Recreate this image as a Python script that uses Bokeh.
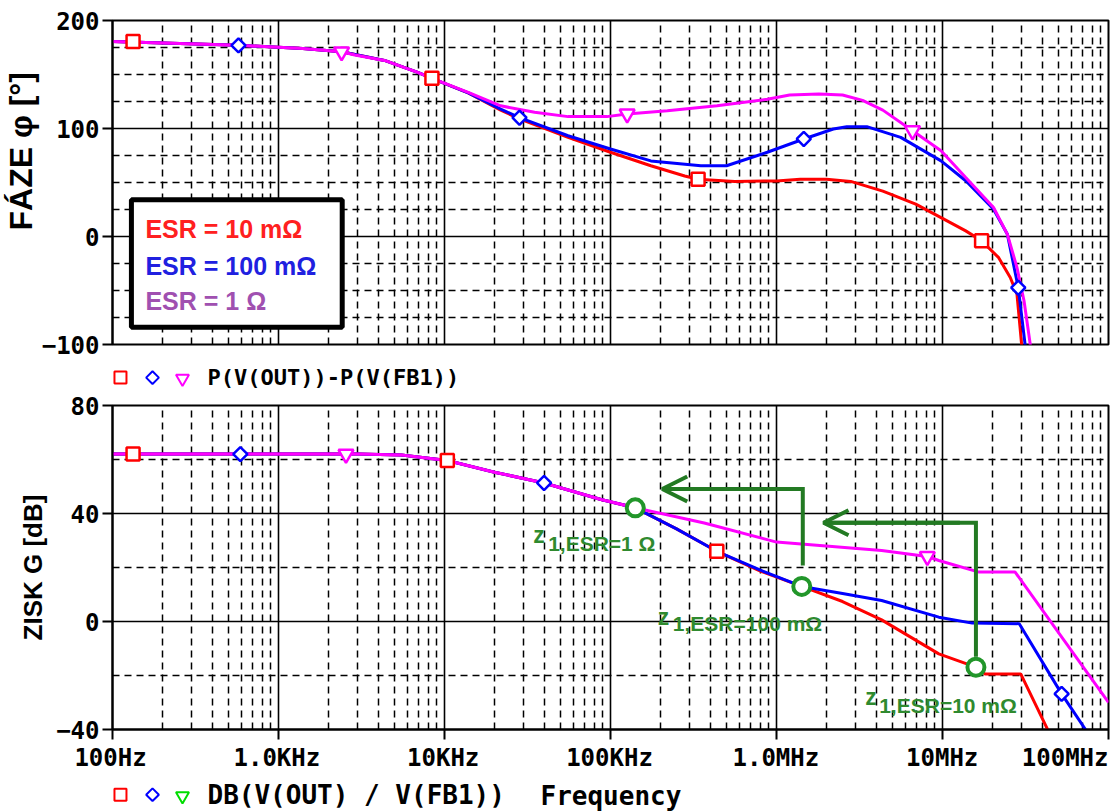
import numpy as np
from bokeh.plotting import figure
from bokeh.models import Range1d, FixedTicker, Label, BoxAnnotation, Arrow, OpenHead, Title
from bokeh.layouts import column
from bokeh.embed import file_html
from bokeh.resources import INLINE
from bokeh.core.properties import value

# ---------------- data ----------------
decade_ticks = [1e2, 1e3, 1e4, 1e5, 1e6, 1e7, 1e8]
decade_labels = ["100Hz", "1.0KHz", "10KHz", "100KHz", "1.0MHz", "10MHz", "100MHz"]
minor_x = [m * 10 ** e for e in range(2, 8) for m in range(2, 10)]

phase_ticks = [-100, 0, 100, 200]
phase_minor = [-75, -50, -25, 25, 50, 75, 125, 150, 175]
gain_ticks = [-40, 0, 40, 80]
gain_minor = [-20, 20, 60]

legend_names = ["ESR = 10 m\u03a9", "ESR = 100 m\u03a9", "ESR = 1 \u03a9"]

# phase [deg]
ph_f_red = [100, 574, 1.4e3, 2.4e3, 4.35e3, 6.9e3, 8.4e3, 13.9e3, 21.8e3, 28.3e3, 55.5e3, 100e3, 175e3,
            280e3, 337e3, 560e3, 1e6, 1.39e6, 2e6, 2.8e6, 4.37e6, 6.9e6, 9.8e6, 13.8e6, 17.2e6, 21.8e6,
            25.6e6, 28.1e6, 30e6]
ph_red = [180.5, 177, 174, 171, 163, 152, 146.5, 133, 117, 109, 91.8, 78, 65.5, 56, 53, 51, 51.5, 53, 53,
          51, 42, 30, 17.5, 5.2, -4, -19.6, -38, -53.5, -101]
ph_f_blue = [100, 574, 1.4e3, 2.4e3, 4.35e3, 6.9e3, 8.4e3, 13.9e3, 21.8e3, 28.3e3, 55.5e3, 100e3, 175e3,
             350e3, 500e3, 880e3, 1.46e6, 2.2e6, 2.65e6, 3.5e6, 5.6e6, 9.8e6, 13.8e6, 20.3e6, 24.6e6,
             28.6e6, 31.5e6]
ph_blue = [180.5, 177, 174, 171, 163, 152, 146.5, 133, 118, 110, 93.3, 81, 70, 65.5, 65.5, 78, 90.3, 99.5,
           101.7, 101.7, 91.8, 70, 51.6, 25.3, 2, -47.4, -101]
ph_f_mag = [100, 574, 1.4e3, 2.4e3, 2.88e3, 4.35e3, 6.9e3, 8.4e3, 13.9e3, 21.8e3, 34.9e3, 55.5e3, 95e3,
            126e3, 220e3, 438e3, 880e3, 1.2e6, 1.8e6, 2.5e6, 3.3e6, 4.37e6, 6.6e6, 9.8e6, 13.8e6, 20.3e6,
            24.6e6, 28.1e6, 31e6, 34e6]
ph_mag = [180.5, 177, 174, 171, 168, 163, 152, 146.5, 133.5, 121, 115, 111, 111, 113.5, 116.5, 121, 127,
          131, 132, 131, 126, 117, 98, 79.4, 54.6, 26.8, 2, -28.8, -59.7, -103]

# gain [dB]
g_f_red = [100, 3e3, 5.5e3, 10.4e3, 20e3, 39.8e3, 87.6e3, 141e3, 250e3, 437e3, 800e3, 1.42e6, 2.5e6,
           4.3e6, 9.5e6, 15.9e6, 18e6, 29.6e6, 43.3e6]
g_red = [62, 62, 61.7, 59.6, 55.3, 51.3, 45.2, 42.1, 34.3, 26, 18.7, 13, 7.4, 0.6, -12, -16.9, -19.4,
         -19.4, -40.4]
g_f_blue = [100, 3e3, 5.5e3, 10.4e3, 20e3, 39.8e3, 87.6e3, 141e3, 250e3, 437e3, 800e3, 1.42e6, 2.5e6,
            4.3e6, 9.5e6, 15.1e6, 29e6, 52.2e6, 74.5e6]
g_blue = [62, 62, 61.7, 59.6, 55.3, 51.3, 45.2, 42.1, 34.3, 26, 19, 13, 10.4, 7.8, 1.6, -0.6, -0.8,
          -26.8, -41]
g_f_mag = [100, 3e3, 5.5e3, 10.4e3, 20e3, 39.8e3, 87.6e3, 141e3, 367e3, 1e6, 4.3e6, 8.1e6, 9.5e6,
           16.6e6, 27.4e6, 100e6]
g_mag = [62, 62, 61.7, 59.6, 55.3, 51.3, 45.2, 42.1, 36.5, 29.4, 26.3, 24.1, 22.6, 18.3, 18.3, -30]

# curve markers
ph_mk_red_f, ph_mk_red = [133, 8.4e3, 337e3, 17.2e6], [180.5, 146.5, 53, -4]
ph_mk_blue_f, ph_mk_blue = [574, 28.3e3, 1.46e6, 28.6e6], [177, 110, 90.3, -47.4]
ph_mk_mag_f, ph_mk_mag = [2.4e3, 126e3, 6.6e6], [171, 113.5, 98]
g_mk_red_f, g_mk_red = [133, 10.4e3, 437e3], [62, 59.6, 26]
g_mk_blue_f, g_mk_blue = [589, 39.8e3, 52.2e6], [62, 51.3, -26.8]
g_mk_mag_f, g_mk_mag = [2.55e3, 8.1e6], [62, 24.1]

# zero annotations (green)
z_f = [141e3, 1.42e6, 15.9e6]
z_db = [42.1, 13, -16.9]
z_names = ["1,ESR=1 \u03a9", "1,ESR=100 m\u03a9", "1,ESR=10 m\u03a9"]
arrow_x = [1.44e6, 15.9e6]
arrow_y0 = [20.7, -13.1]
arrow_y1 = [49.1, 36.6]
arrow_tip = [205e3, 1.92e6]

RED, BLUE, MAG = "#FF0000", "#0000FF", "#FF00FF"
GREEN = "#237A23"
TGREEN = "#2F8A2F"
MONO = "DejaVu Sans Mono"
SANS = "Liberation Sans"

W = 1112
BL, BR = 110, 4                     # frame borders left / right
FRAME_W = W - BL - BR
X0, X1 = 1e2, 1e8
DEC = np.log10(X1 / X0)
XL = 10 ** (np.log10(X0) - BL * DEC / FRAME_W)
XR = 10 ** (np.log10(X1) + BR * DEC / FRAME_W)


def make_fig(height, yr, yticks, yminor, btop, bbottom):
    p = figure(width=W, height=height, x_axis_type="log", x_range=Range1d(X0, X1),
               y_range=Range1d(*yr), output_backend="svg", toolbar_location=None,
               min_border_left=BL, min_border_right=BR, min_border_top=btop, min_border_bottom=bbottom,
               background_fill_color="white", border_fill_color="white")
    xt = FixedTicker(ticks=decade_ticks, minor_ticks=minor_x)
    yt = FixedTicker(ticks=yticks, minor_ticks=yminor)
    p.xaxis.ticker = xt
    p.yaxis.ticker = yt
    p.xgrid.ticker = xt
    p.ygrid.ticker = yt
    for g in (p.xgrid, p.ygrid):
        g.grid_line_color = "black"
        g.grid_line_width = 1.6
        g.grid_line_alpha = 1.0
        g.minor_grid_line_color = "black"
        g.minor_grid_line_width = 1.5
        g.minor_grid_line_dash = "7 5"
    p.outline_line_color = "black"
    p.outline_line_width = 2
    p.outline_line_alpha = 1
    for ax in (p.xaxis, p.yaxis):
        ax.axis_line_color = "black"
        ax.axis_line_width = 2
        ax.major_tick_line_color = "black"
        ax.major_tick_line_width = 2
        ax.major_tick_in = 0
        ax.major_tick_out = 10
        ax.minor_tick_in = 0
        ax.minor_tick_out = 0
        ax.major_label_text_font = MONO
        ax.major_label_text_font_style = "bold"
        ax.major_label_text_font_size = "24px"
        ax.major_label_text_color = "black"
    p.yaxis.major_label_standoff = 3
    return p


def make_strip(height):
    s = figure(width=W, height=height, x_axis_type="log", x_range=Range1d(XL, XR), y_range=Range1d(0, 1),
               output_backend="svg", toolbar_location=None, x_axis_location=None, y_axis_location=None,
               min_border_left=0, min_border_right=0, min_border_top=0, min_border_bottom=0,
               background_fill_color="white", border_fill_color="white")
    try:
        s.frame_align = False
    except AttributeError:
        pass
    s.grid.visible = False
    s.outline_line_color = None
    return s


def curves(p, fr, r, fb, b, fm, m, mk):
    p.line(fr, r, line_color=RED, line_width=3)
    p.line(fb, b, line_color=BLUE, line_width=3)
    p.line(fm, m, line_color=MAG, line_width=3)
    (rf, rv), (bf, bv), (mf, mv) = mk
    p.scatter(rf, rv, marker="square", size=13, line_color=RED, line_width=2.5, fill_color="white")
    p.scatter(bf, bv, marker="square", angle=np.pi / 4, size=10, line_color=BLUE, line_width=2.5,
              fill_color="white")
    p.scatter(mf, mv, marker="inverted_triangle", size=15, line_color=MAG, line_width=2.5,
              fill_color="white")


def legend_row(s, y, tri_color, text, size):
    s.scatter([114.8], [y], marker="square", size=12, line_color=RED, line_width=2, fill_color="white")
    s.scatter([178.9], [y], marker="square", angle=np.pi / 4, size=9, line_color=BLUE, line_width=2,
              fill_color="white")
    s.scatter([270.9], [y - 0.03], marker="inverted_triangle", size=13, line_color=tri_color,
              line_width=2, fill_color="white")
    s.text([383], [y], text=[text], text_color="black", text_font=value(MONO), text_font_style="bold",
           text_font_size=size, text_align="left", text_baseline="middle")


# ---------------- top: phase ----------------
p1 = make_fig(362, (-100, 200), phase_ticks, phase_minor, 20, 18)
p1.xaxis.visible = False
p1.add_layout(Title(text="F\u00c1ZE \u03c6 [\u00b0]", align="left", offset=114, standoff=0,
                    text_font=SANS, text_font_style="bold", text_font_size="32px", text_color="black"),
              "left")
curves(p1, ph_f_red, ph_red, ph_f_blue, ph_blue, ph_f_mag, ph_mag,
       [(ph_mk_red_f, ph_mk_red), (ph_mk_blue_f, ph_mk_blue), (ph_mk_mag_f, ph_mk_mag)])

p1.add_layout(BoxAnnotation(left=130, right=2420, top=34, bottom=-84, fill_color="white", fill_alpha=1,
                            line_color="black", line_width=5, line_alpha=1, level="overlay"))
for yy, name, col in zip([7.0, -27.3, -59.7], legend_names, ["#FF2020", "#2020E0", "#A050B0"]):
    p1.add_layout(Label(x=157.9, y=yy, text=name, text_color=col, text_font=SANS,
                        text_font_style="bold", text_font_size="25px", text_baseline="middle",
                        level="overlay"))

s1 = make_strip(28)
legend_row(s1, 0.46, MAG, "P(V(OUT))-P(V(FB1))", "22px")

# ---------------- bottom: gain ----------------
p2 = make_fig(353, (-40, 80), gain_ticks, gain_minor, 15, 14)
p2.add_layout(Title(text="ZISK G [dB]", align="center", offset=0, standoff=11,
                    text_font=SANS, text_font_style="bold", text_font_size="26px", text_color="black"),
              "left")
p2.xaxis.major_label_overrides = {t: "" for t in decade_ticks}
p2.xaxis.major_label_text_font_size = "1px"
p2.xaxis.major_label_standoff = 0
curves(p2, g_f_red, g_red, g_f_blue, g_blue, g_f_mag, g_mag,
       [(g_mk_red_f, g_mk_red), (g_mk_blue_f, g_mk_blue), (g_mk_mag_f, g_mk_mag)])

for xa, y0, y1, tip in zip(arrow_x, arrow_y0, arrow_y1, arrow_tip):
    p2.line([xa, xa, tip], [y0, y1, y1], line_color=GREEN, line_width=4, line_join="miter")
    p2.add_layout(Arrow(end=OpenHead(size=25, line_color=GREEN, line_width=4), x_start=xa * 0.8,
                        y_start=y1, x_end=tip, y_end=y1, line_color=GREEN, line_width=4))
p2.scatter(z_f, z_db, marker="circle", size=17, line_color="#22962A", line_width=4, fill_color="white")

z_pos = [(34.2e3, 32.2), (192.9e3, 1.5), (3.42e6, -28.1)]
sub_pos = [(42.1e3, 28.9), (237.4e3, -0.7), (4.155e6, -31.1)]
for (zx, zy), (sx, sy), name in zip(z_pos, sub_pos, z_names):
    p2.add_layout(Label(x=zx, y=zy, text="z", text_color=TGREEN, text_font=SANS, text_font_style="bold",
                        text_font_size="23px", text_baseline="alphabetic"))
    p2.add_layout(Label(x=sx, y=sy, text=name, text_color=TGREEN, text_font=SANS, text_font_style="bold",
                        text_font_size="21px", text_baseline="alphabetic"))

# x tick labels
sx_ = make_strip(28)
sx_.text(decade_ticks[:-1], [0.5] * 6, text=decade_labels[:-1], text_color="black",
         text_font=value(MONO), text_font_style="bold", text_font_size="24px", text_align="center",
         text_baseline="middle")
sx_.text(decade_ticks[-1:], [0.5], text=decade_labels[-1:], text_color="black",
         text_font=value(MONO), text_font_style="bold", text_font_size="24px", text_align="right",
         text_baseline="middle")

s2 = make_strip(40)
legend_row(s2, 0.42, "#00DD00", "DB(V(OUT) / V(FB1))", "26px")
s2.text([1.02e5], [0.38], text=["Frequency"], text_color="black", text_font=value(MONO),
        text_font_style="bold", text_font_size="26px", text_align="center", text_baseline="middle")

layout = column(p1, s1, p2, sx_, s2)
open("out.html", "w").write(file_html(layout, INLINE))
